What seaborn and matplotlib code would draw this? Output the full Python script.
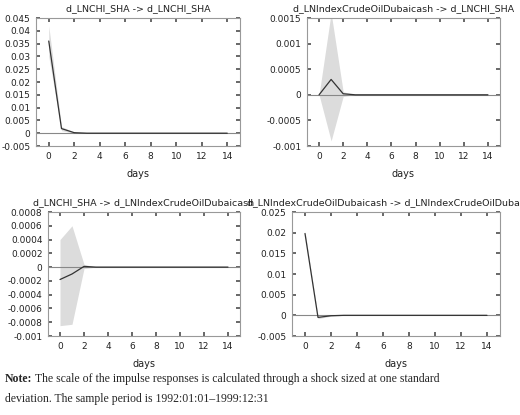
import matplotlib
matplotlib.use("Agg")
import matplotlib.pyplot as plt
import seaborn as sns
import numpy as np

sns.set_theme(style="white")
plt.rcParams['font.family'] = ['DejaVu Sans']

days = list(range(15))
titles = ["d_LNCHI_SHA -> d_LNCHI_SHA",
          "d_LNIndexCrudeOilDubaicash -> d_LNCHI_SHA",
          "d_LNCHI_SHA -> d_LNIndexCrudeOilDubaicash",
          "d_LNIndexCrudeOilDubaicash -> d_LNIndexCrudeOilDubaicash"]
resp1 = [0.036, 0.0018, 0.0002] + [0.0] * 12
low1 = [0.030, 0.0010, 0.0000] + [0.0] * 12
up1 = [0.042, 0.0026, 0.0004] + [0.0] * 12
resp2 = [0.0, 0.0003, 0.00002] + [0.0] * 12
low2 = [0.0, -0.0009, -0.00003] + [0.0] * 12
up2 = [0.0, 0.0016, 0.00006] + [0.0] * 12
resp3 = [-0.00018, -0.0001, 0.00001] + [0.0] * 12
low3 = [-0.00085, -0.00083, -0.00002] + [0.0] * 12
up3 = [0.0004, 0.0006, 0.00004] + [0.0] * 12
resp4 = [0.0198, -0.0005, -0.0001] + [0.0] * 12
low4 = [0.0193, -0.0008, -0.0002] + [0.0] * 12
up4 = [0.0203, -0.0002, 0.0000] + [0.0] * 12

ylims = [(-0.005, 0.045), (-0.001, 0.0015), (-0.001, 0.0008), (-0.005, 0.025)]
labels = [
    ["-0.005", "0", "0.005", "0.01", "0.015", "0.02", "0.025", "0.03", "0.035", "0.04", "0.045"],
    ["-0.001", "-0.0005", "0", "0.0005", "0.001", "0.0015"],
    ["-0.001", "-0.0008", "-0.0006", "-0.0004", "-0.0002", "0", "0.0002", "0.0004", "0.0006", "0.0008"],
    ["-0.005", "0", "0.005", "0.01", "0.015", "0.02", "0.025"],
]
series = [(resp1, low1, up1), (resp2, low2, up2), (resp3, low3, up3), (resp4, low4, up4)]
rects = [(36, 18, 204, 128), (307, 18, 193, 128), (48, 212, 192, 124), (292, 212, 208, 124)]

W, H = 520, 415
fig = plt.figure(figsize=(5.2, 4.15), dpi=100)
for i in range(4):
    x0, y0, w, h = rects[i]
    ax = fig.add_axes([x0 / W, 1 - (y0 + h) / H, w / W, h / H])
    r, lo, up = series[i]
    ax.fill_between(days, lo, up, color="#dcdcdc", lw=0)
    ax.axhline(0, color="#888888", lw=0.8)
    sns.lineplot(x=days, y=r, ax=ax, color="#333333", lw=0.9)
    ax.set_xlim(-1, 15)
    ax.set_ylim(*ylims[i])
    ax.set_xticks(range(0, 15, 2))
    ticks = np.linspace(ylims[i][0], ylims[i][1], len(labels[i]))
    ax.set_yticks(ticks)
    ax.set_yticklabels(labels[i])
    ax.tick_params(direction="in", length=3, labelsize=6.5, colors="#222222",
                   top=True, right=True, bottom=True, left=True, color="#555555", pad=4)
    for s in ax.spines.values():
        s.set_color("#999999"); s.set_linewidth(0.8)
    ax.set_xlabel("days", fontsize=7, color="#222222", labelpad=6)
    t = ax.set_title(titles[i], fontsize=6.8, color="#222222", pad=5)
    t.set_clip_on(False)

fig.canvas.draw()
r = fig.canvas.get_renderer()
nb = fig.text(5 / W, 1 - 382 / H, "Note:", fontsize=8.5, family="Liberation Serif", weight="bold")
bb = nb.get_window_extent(r)
fig.text((bb.x1 + 3) / W, 1 - 382 / H,
         "The scale of the impulse responses is calculated through a shock sized at one standard",
         fontsize=8.5, family="Liberation Serif")
fig.text(5 / W, 1 - 402 / H, "deviation. The sample period is 1992:01:01\u20131999:12:31",
         fontsize=8.5, family="Liberation Serif")
fig.savefig("out.png", dpi=100)
